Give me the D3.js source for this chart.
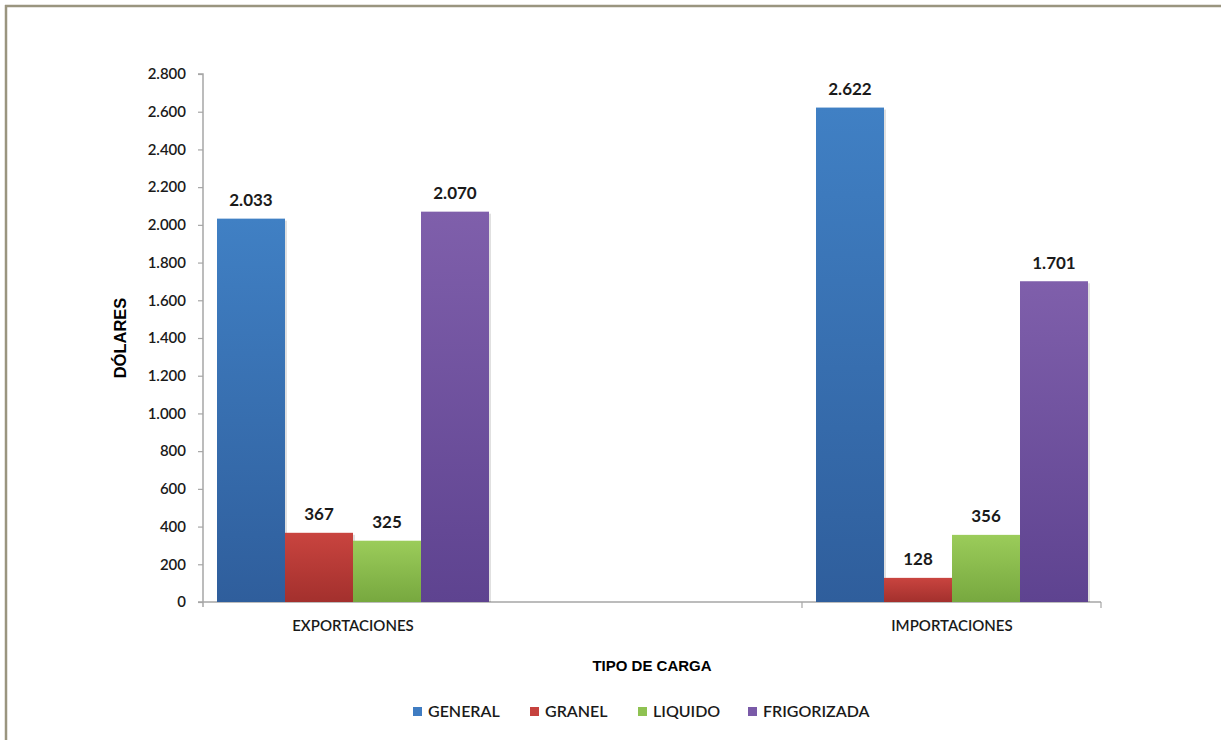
<!DOCTYPE html>
<html>
<head>
<meta charset="utf-8">
<script src="https://cdn.jsdelivr.net/npm/d3@7"></script>
<style>
  html, body { margin: 0; padding: 0; background: #ffffff; }
  svg { display: block; }
</style>
</head>
<body>
<svg id="chart" width="1221" height="740"></svg>
<script>
// ---- data ----
const categories = ["EXPORTACIONES", "IMPORTACIONES"];
const seriesNames = ["GENERAL", "GRANEL", "LIQUIDO", "FRIGORIZADA"];
const general = [2033, 2622];
const granel = [367, 128];
const liquido = [325, 356];
const frigorizada = [2070, 1701];
const yTicks = [0, 200, 400, 600, 800, 1000, 1200, 1400, 1600, 1800, 2000, 2200, 2400, 2600, 2800];

const seriesValues = [general, granel, liquido, frigorizada];
const colorsTop = ["#4080c4", "#c9443f", "#9bcc5a", "#7f5fab"];
const colorsBot = ["#2f5e9c", "#a3302d", "#77a83f", "#5e4390"];
const colorsLegend = ["#3f7cc2", "#c6423e", "#8fc252", "#7a5aa8"];

const locale = d3.formatLocale({ decimal: ",", thousands: ".", grouping: [3], currency: ["", ""] });
const fmt = locale.format(",d");

const svg = d3.select("#chart");
const font = "Lato, 'Open Sans', sans-serif";

// frame
svg.append("line").attr("x1", 5).attr("x2", 1221).attr("y1", 6).attr("y2", 6)
  .attr("stroke", "#9a957f").attr("stroke-width", 2.5);
svg.append("line").attr("x1", 6).attr("x2", 6).attr("y1", 5).attr("y2", 740)
  .attr("stroke", "#9a957f").attr("stroke-width", 2.5);

// gradients
const defs = svg.append("defs");
seriesNames.forEach((s, i) => {
  const g = defs.append("linearGradient").attr("id", "grad" + i)
    .attr("x1", 0).attr("y1", 0).attr("x2", 0).attr("y2", 1);
  g.append("stop").attr("offset", "0%").attr("stop-color", colorsTop[i]);
  g.append("stop").attr("offset", "100%").attr("stop-color", colorsBot[i]);
});

// scales
const plotLeft = 203, plotRight = 1101, plotTop = 74, plotBottom = 602;
const y = d3.scaleLinear().domain([0, 2800]).range([plotBottom, plotTop]);
const x0 = d3.scalePoint().domain(categories).range([353, 952]);
const x1 = d3.scaleBand().domain(seriesNames).range([-136, 136]).padding(0);

// y axis
const yAxis = d3.axisLeft(y).tickValues(yTicks).tickSize(5).tickPadding(12)
  .tickFormat(d => fmt(d));
const gy = svg.append("g").attr("transform", `translate(${plotLeft},0)`).call(yAxis);
gy.select(".domain").attr("stroke", "#a6a6a6").attr("stroke-width", 1.5)
  .attr("d", `M-5,${plotTop}H0V${plotBottom + 5}`);
gy.selectAll(".tick line").attr("stroke", "#a6a6a6").attr("stroke-width", 1.2);
gy.selectAll(".tick text").attr("fill", "#1a1a1a").style("font-family", font)
  .style("font-size", "15px").style("font-weight", "600");

// x axis line + ticks
svg.append("line").attr("x1", plotLeft - 5).attr("x2", plotRight).attr("y1", plotBottom).attr("y2", plotBottom)
  .attr("stroke", "#a6a6a6").attr("stroke-width", 1.5);
const sepX = (x0("EXPORTACIONES") + x0("IMPORTACIONES")) / 2 + 149.5;
[sepX, plotRight].forEach(xx => {
  svg.append("line").attr("x1", xx).attr("x2", xx).attr("y1", plotBottom).attr("y2", plotBottom + 6)
    .attr("stroke", "#a6a6a6").attr("stroke-width", 1.2);
});

// category labels
svg.selectAll(".cat").data(categories).enter().append("text")
  .attr("x", d => x0(d)).attr("y", 631).attr("text-anchor", "middle")
  .style("font-family", font).style("font-size", "15px").style("font-weight", "600")
  .attr("fill", "#1a1a1a").text(d => d);

// bars
categories.forEach((c, ci) => {
  seriesNames.forEach((s, si) => {
    const v = seriesValues[si][ci];
    const bx = x0(c) + x1(s);
    // shadow
    svg.append("rect").attr("x", bx + 2).attr("y", y(v) + 2)
      .attr("width", x1.bandwidth()).attr("height", plotBottom - y(v) - 2)
      .attr("fill", "#000").attr("opacity", 0.12);
    svg.append("rect").attr("x", bx).attr("y", y(v))
      .attr("width", x1.bandwidth()).attr("height", plotBottom - y(v))
      .attr("fill", `url(#grad${si})`);
    svg.append("text").attr("x", bx + x1.bandwidth() / 2).attr("y", y(v) - 12.5)
      .attr("text-anchor", "middle").style("font-family", font)
      .style("font-size", "17px").style("font-weight", "700").attr("fill", "#1a1a1a")
      .text(fmt(v));
  });
});

// axis titles
svg.append("text").attr("transform", "translate(126,338) rotate(-90)")
  .attr("text-anchor", "middle").style("font-family", "'Liberation Sans', Arial, sans-serif")
  .style("font-size", "16.5px").style("font-weight", "700").attr("fill", "#000").text("DÓLARES");
svg.append("text").attr("x", 652).attr("y", 671).attr("text-anchor", "middle")
  .style("font-family", "'Liberation Sans', Arial, sans-serif")
  .style("font-size", "15px").style("font-weight", "700").attr("fill", "#000").text("TIPO DE CARGA");

// legend
const legendX = [413, 530, 638, 748];
const lg = svg.selectAll(".leg").data(seriesNames).enter().append("g")
  .attr("transform", (d, i) => `translate(${legendX[i]},707)`);
lg.append("rect").attr("width", 9).attr("height", 9).attr("fill", (d, i) => colorsLegend[i]);
lg.append("text").attr("x", 15).attr("y", 10)
  .style("font-family", font).style("font-size", "16px").style("font-weight", "600")
  .attr("fill", "#1a1a1a").text(d => d);
</script>
</body>
</html>
